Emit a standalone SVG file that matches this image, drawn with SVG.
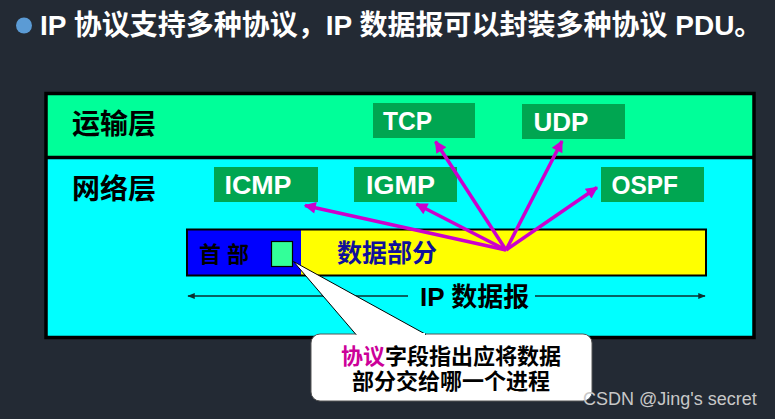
<svg xmlns="http://www.w3.org/2000/svg" width="775" height="419" viewBox="0 0 775 419">
<style>
.cjk{font-family:"Liberation Sans","Noto Sans CJK SC",sans-serif;font-weight:bold}
.box{fill:#00a651}
.boxt{font-family:"Liberation Sans",sans-serif;font-weight:bold;font-size:26px;fill:#ffffff}
.mag{stroke:#cc00cc;stroke-width:3.5;fill:none;marker-end:url(#mh)}
</style>
<defs>
<marker id="mh" viewBox="0 0 10 10" refX="9" refY="5" markerWidth="4" markerHeight="3.4" orient="auto" markerUnits="strokeWidth">
<path d="M0,0 L10,5 L0,10 z" fill="#cc00cc"/>
</marker>
<marker id="bh" viewBox="0 0 10 10" refX="9" refY="5" markerWidth="7" markerHeight="5" orient="auto-start-reverse" markerUnits="strokeWidth">
<path d="M0,1 L10,5 L0,9 z" fill="#0d2e2e"/>
</marker>
</defs>
<rect x="0" y="0" width="775" height="419" fill="#232a34"/>
<g id="title">
<circle cx="24" cy="25.5" r="8" fill="#5b9bd5"/>
<text x="40" y="35" class="cjk" font-size="28" fill="#ffffff">IP 协议支持多种协议，IP 数据报可以封装多种协议 PDU。</text>
</g>
<g id="layers">
<rect x="46" y="93.5" width="708" height="64" fill="#00ff99"/>
<rect x="46" y="157.5" width="708" height="180" fill="#00ffff"/>
<rect x="46" y="93.5" width="708" height="244" fill="none" stroke="#000" stroke-width="3.5"/>
<line x1="46" y1="157.5" x2="754" y2="157.5" stroke="#000" stroke-width="3.5"/>
<text x="72" y="134" class="cjk" font-size="28" fill="#000">运输层</text>
<text x="72" y="199" class="cjk" font-size="28" fill="#000">网络层</text>
</g>
<g id="tcp"><rect class="box" x="373" y="103" width="102" height="35"/><text class="boxt" x="383" y="129.5" textLength="49" lengthAdjust="spacingAndGlyphs">TCP</text></g>
<g id="udp"><rect class="box" x="522" y="104" width="103" height="35"/><text class="boxt" x="533.5" y="130.5" textLength="55" lengthAdjust="spacingAndGlyphs">UDP</text></g>
<g id="icmp"><rect class="box" x="214" y="167" width="104" height="35"/><text class="boxt" x="224.5" y="193.5" textLength="67" lengthAdjust="spacingAndGlyphs">ICMP</text></g>
<g id="igmp"><rect class="box" x="354" y="167" width="103" height="35"/><text class="boxt" x="366" y="193.5" textLength="69" lengthAdjust="spacingAndGlyphs">IGMP</text></g>
<g id="ospf"><rect class="box" x="601" y="167" width="103" height="35"/><text class="boxt" x="611.5" y="193.5" textLength="66.5" lengthAdjust="spacingAndGlyphs">OSPF</text></g>
<g id="packet">
<rect x="187" y="229.5" width="114" height="46" fill="#0000ff"/>
<rect x="301" y="229.5" width="405" height="46" fill="#ffff00"/>
<rect x="187" y="229.5" width="519" height="46" fill="none" stroke="#000" stroke-width="2"/>
<text x="199" y="262" class="cjk" font-size="22" fill="#000">首 部</text>
<rect x="271.5" y="241.5" width="21" height="25" fill="#33ff99" stroke="#000" stroke-width="1.2"/>
<text x="337" y="262" class="cjk" font-size="25" fill="#10109a">数据部分</text>
</g>
<g id="connectors">
<line class="mag" x1="506" y1="250" x2="305" y2="205.5"/>
<line class="mag" x1="506" y1="250" x2="416.5" y2="204"/>
<line class="mag" x1="506" y1="250" x2="435.5" y2="141.5"/>
<line class="mag" x1="506" y1="250" x2="562" y2="141"/>
<line class="mag" x1="506" y1="250" x2="597" y2="187.5"/>
<line x1="188" y1="296" x2="408" y2="296" stroke="#0d2e2e" stroke-width="1.5" marker-start="url(#bh)"/>
<line x1="535" y1="296" x2="705" y2="296" stroke="#0d2e2e" stroke-width="1.5" marker-end="url(#bh)"/>
</g>
<g id="datagram-label">
<text x="420" y="306" class="cjk" font-size="26" fill="#000">IP 数据报</text>
</g>
<g id="callout">
<rect x="311" y="334" width="281" height="67" rx="9" fill="#ffffff" stroke="#555" stroke-width="1"/>
<path d="M356,334.5 L293.5,261.5 L426,334.5" fill="#ffffff" stroke="#000" stroke-width="1"/>
<rect x="357" y="333" width="68" height="3" fill="#ffffff"/>
<text x="451" y="364" class="cjk" font-size="22" text-anchor="middle" fill="#000"><tspan fill="#cc0099">协议</tspan>字段指出应将数据</text>
<text x="451" y="389" class="cjk" font-size="22" text-anchor="middle" fill="#000">部分交给哪一个进程</text>
</g>
<text x="583" y="405" font-family="Liberation Sans,sans-serif" font-size="18" fill="#c8c8c8">CSDN @Jing's secret</text>
</svg>
